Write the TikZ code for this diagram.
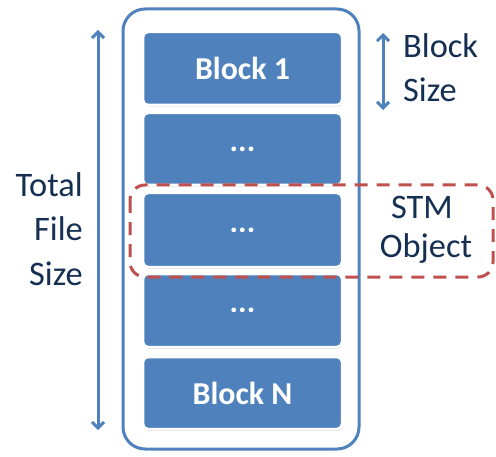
\documentclass[tikz,border=0pt]{standalone}
\usepackage{fontspec}
\setmainfont{Carlito}
\usetikzlibrary{arrows.meta,shadows}
\definecolor{blk}{HTML}{4F81BD}
\definecolor{redd}{HTML}{C0504D}
\definecolor{txt}{HTML}{142F52}
\begin{document}
\begin{tikzpicture}[x=1bp,y=-1bp,
  blockbox/.style={draw=white,line width=2.5bp,fill=blk,rounded corners=5bp,
    drop shadow={shadow xshift=0.6bp,shadow yshift=-1.5bp,opacity=0.35,fill=black!60}},
  blocktext/.style={text=white,font=\fontsize{32}{38}\selectfont\bfseries},
  lbl/.style={text=txt,font=\fontsize{34.5}{40}\selectfont,inner sep=0pt},
  arr/.style={draw=blk,line width=3bp,{Straight Barb[length=6bp,width=12bp,line width=3bp]}-{Straight Barb[length=6bp,width=12bp,line width=3bp]}}
]
\useasboundingbox (0,0) rectangle (496,457);
\fill[white] (0,0) rectangle (496,457);
% outer container
\draw[blk,line width=3bp,rounded corners=22bp] (123,9) rectangle (359,449);
% blocks
\node[blockbox,minimum width=199bp,minimum height=73bp,inner sep=0pt] (b1) at (242.5,68.5) {};
\node[blockbox,minimum width=199bp,minimum height=72bp,inner sep=0pt] (b2) at (242.5,149) {};
\node[blockbox,minimum width=199bp,minimum height=74bp,inner sep=0pt] (b3) at (242.5,230) {};
\node[blockbox,minimum width=199bp,minimum height=73bp,inner sep=0pt] (b4) at (242.5,310.5) {};
\node[blockbox,minimum width=199bp,minimum height=72bp,inner sep=0pt] (b5) at (242.5,393) {};
\node[blocktext] (t1) at (b1) {Block 1};
\node[blocktext] (t2) at (b2) {...};
\node[blocktext] (t3) at (b3) {...};
\node[blocktext] (t4) at (b4) {...};
\node[blocktext] (t5) at (b5) {Block N};
% STM object dashed
\draw[redd,line width=3bp,dash pattern=on 13bp off 9bp,rounded corners=15bp] (130,185) rectangle (493,277);
% total file size arrow
\coordinate (ta) at (98,30);
\coordinate (tb) at (98,430);
\draw[arr] (ta) -- (tb);
\node[lbl,anchor=base east] (l1) at (83,197) {Total};
\node[lbl,anchor=base east] (l2) at (83,241) {File};
\node[lbl,anchor=base east] (l3) at (83,285) {Size};
% block size arrow
\coordinate (ba) at (383,33);
\coordinate (bb) at (383,110);
\draw[arr] (ba) -- (bb);
\node[lbl,anchor=base west] (s1) at (403,58) {Block};
\node[lbl,anchor=base west] (s2) at (403,102) {Size};
% STM object label
\node[lbl,anchor=base] (o1) at (422,219) {STM};
\node[lbl,anchor=base] (o2) at (426,257) {Object};
\end{tikzpicture}
\end{document}
